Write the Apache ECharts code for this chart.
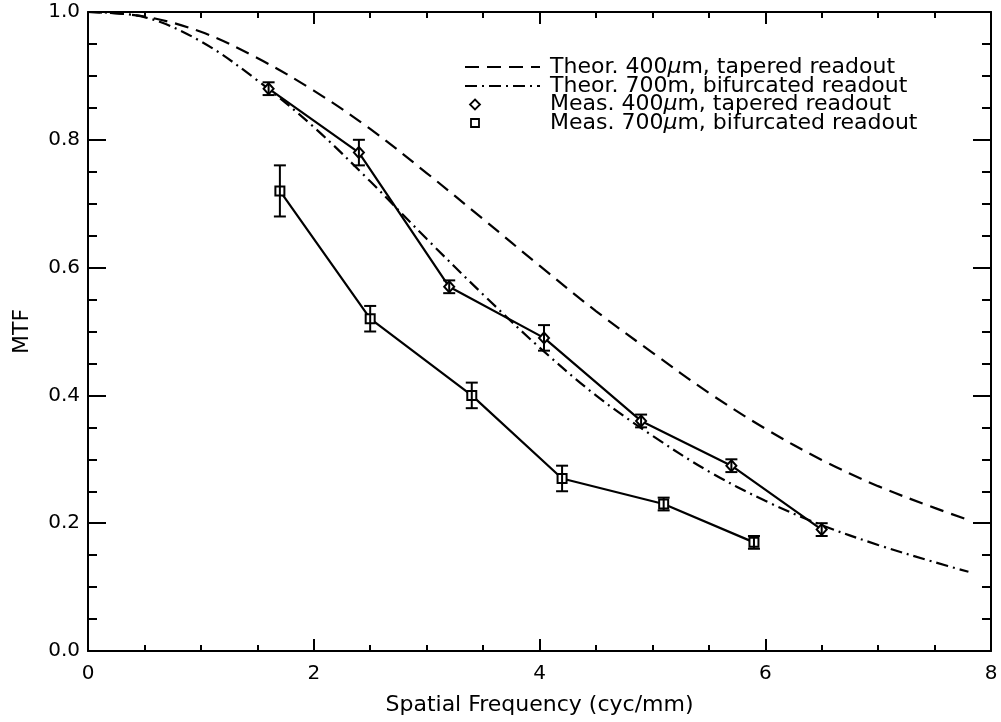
<!DOCTYPE html>
<html><head><meta charset="utf-8">
<script src="https://cdn.jsdelivr.net/npm/echarts@6/dist/echarts.min.js"></script>
<style>html,body{margin:0;padding:0;background:#fff}#c{width:1001px;height:722px}</style>
</head><body><div id="c"></div>
<script>
// ---- data ----
const theoX = [0, 0.5, 1, 1.5, 2, 2.5, 3, 3.5, 4, 4.5, 5, 5.5, 6, 6.5, 7, 7.5, 7.8];
const theo400 = [1.0, 0.993, 0.969, 0.928, 0.877, 0.817, 0.748, 0.676, 0.603, 0.532, 0.467, 0.404, 0.348, 0.299, 0.258, 0.224, 0.205];
const theo700 = [1.0, 0.992, 0.954, 0.893, 0.82, 0.735, 0.645, 0.558, 0.475, 0.40, 0.337, 0.281, 0.235, 0.197, 0.166, 0.139, 0.124];
const meas400X = [1.6, 2.4, 3.2, 4.04, 4.9, 5.7, 6.5];
const meas400Y = [0.88, 0.78, 0.57, 0.49, 0.36, 0.29, 0.19];
const meas400Err = [0.01, 0.02, 0.01, 0.02, 0.01, 0.01, 0.01];
const meas700X = [1.7, 2.5, 3.4, 4.2, 5.1, 5.9];
const meas700Y = [0.72, 0.52, 0.40, 0.27, 0.23, 0.17];
const meas700Err = [0.04, 0.02, 0.02, 0.02, 0.01, 0.01];
const legendLabels = [
  'Theor. 400{mu|\u03bc}m, tapered readout',
  'Theor. 700m, bifurcated readout',
  'Meas. 400{mu|\u03bc}m, tapered readout',
  'Meas. 700{mu|\u03bc}m, bifurcated readout'
];
const xTitle = 'Spatial Frequency (cyc/mm)';
const yTitle = 'MTF';

// ---- build ----
const FONT = 'DejaVu Sans';
const pairs = (xs, ys) => xs.map((x, i) => [x, ys[i]]);
const errData = (xs, ys, es) => xs.map((x, i) => [x, ys[i] - es[i], ys[i] + es[i]]);

function errRender(params, api) {
  const x = api.value(0);
  const lo = api.coord([x, api.value(1)]);
  const hi = api.coord([x, api.value(2)]);
  const w = 6;
  const st = { stroke: '#000', lineWidth: 2 };
  return {
    type: 'group',
    children: [
      { type: 'line', shape: { x1: lo[0], y1: lo[1], x2: hi[0], y2: hi[1] }, style: st },
      { type: 'line', shape: { x1: lo[0] - w, y1: lo[1], x2: lo[0] + w, y2: lo[1] }, style: st },
      { type: 'line', shape: { x1: hi[0] - w, y1: hi[1], x2: hi[0] + w, y2: hi[1] }, style: st }
    ]
  };
}

const axisCommon = {
  type: 'value',
  axisLine: { show: true, onZero: false, lineStyle: { color: '#000', width: 2 } },
  splitLine: { show: false },
  minorSplitLine: { show: false }
};

const chart = echarts.init(document.getElementById('c'), null, { renderer: 'canvas' });
const rowY = [67, 86, 104.5, 123];
const legX = 465, textX = 550;
const LF = 22;
const richMu = { mu: { fontStyle: 'italic', fontFamily: FONT, fontSize: LF, fill: '#000' } };
const legendEls = [];
legendEls.push({ type: 'line', shape: { x1: legX, y1: rowY[0], x2: legX + 75, y2: rowY[0] },
  style: { stroke: '#000', lineWidth: 2, lineDash: [14, 8] } });
legendEls.push({ type: 'line', shape: { x1: legX, y1: rowY[1], x2: legX + 75, y2: rowY[1] },
  style: { stroke: '#000', lineWidth: 2, lineDash: [12, 5, 2, 5] } });
legendEls.push({ type: 'polygon', shape: { points: [[475, rowY[2] - 5], [480, rowY[2]], [475, rowY[2] + 5], [470, rowY[2]]] },
  style: { fill: '#fff', stroke: '#000', lineWidth: 1.8 } });
legendEls.push({ type: 'rect', shape: { x: 471, y: rowY[3] - 4, width: 8, height: 8 },
  style: { fill: '#fff', stroke: '#000', lineWidth: 1.8 } });
legendLabels.forEach((t, i) => {
  legendEls.push({ type: 'text', x: textX, y: rowY[i],
    style: { text: t, fontFamily: FONT, fontSize: LF, fill: '#000', verticalAlign: 'middle', rich: richMu } });
});

chart.setOption({
  backgroundColor: '#fff',
  animation: false,
  grid: { left: 88, right: 10, top: 12, bottom: 71, containLabel: false },
  xAxis: [
    Object.assign({}, axisCommon, {
      min: 0, max: 8, interval: 2, position: 'bottom',
      axisTick: { show: true, inside: true, length: 12, lineStyle: { color: '#000', width: 2 } },
      minorTick: { show: true, splitNumber: 4, length: 6, lineStyle: { color: '#000', width: 2 } },
      axisLabel: { color: '#000', fontFamily: FONT, fontSize: 20, margin: 13 },
      name: xTitle, nameLocation: 'middle', nameGap: 43,
      nameTextStyle: { color: '#000', fontFamily: FONT, fontSize: 22 }
    }),
    Object.assign({}, axisCommon, {
      min: 0, max: 8, interval: 2, position: 'top',
      axisTick: { show: true, inside: true, length: 12, lineStyle: { color: '#000', width: 2 } },
      minorTick: { show: true, splitNumber: 4, length: 6, lineStyle: { color: '#000', width: 2 } },
      axisLabel: { show: false }
    })
  ],
  yAxis: [
    Object.assign({}, axisCommon, {
      min: 0, max: 1, interval: 0.2, position: 'left',
      axisTick: { show: true, inside: true, length: 18, lineStyle: { color: '#000', width: 2 } },
      minorTick: { show: true, splitNumber: 4, length: 9, lineStyle: { color: '#000', width: 2 } },
      axisLabel: { color: '#000', fontFamily: FONT, fontSize: 20, margin: 8, formatter: v => v.toFixed(1) },
      name: yTitle, nameLocation: 'middle', nameGap: 55, nameRotate: 90,
      nameTextStyle: { color: '#000', fontFamily: FONT, fontSize: 22 }
    }),
    Object.assign({}, axisCommon, {
      min: 0, max: 1, interval: 0.2, position: 'right',
      axisTick: { show: true, inside: true, length: 18, lineStyle: { color: '#000', width: 2 } },
      minorTick: { show: true, splitNumber: 4, length: 9, lineStyle: { color: '#000', width: 2 } },
      axisLabel: { show: false }
    })
  ],
  series: [
    { type: 'line', data: pairs(theoX, theo400), showSymbol: false, symbol: 'none', smooth: 0.35,
      lineStyle: { color: '#000', width: 2.2, type: [14, 8] }, z: 2 },
    { type: 'line', data: pairs(theoX, theo700), showSymbol: false, symbol: 'none', smooth: 0.35,
      lineStyle: { color: '#000', width: 2.2, type: [12, 5, 2, 5] }, z: 2 },
    { type: 'line', data: pairs(meas400X, meas400Y), symbol: 'diamond', symbolSize: [10, 11],
      lineStyle: { color: '#000', width: 2.2 },
      itemStyle: { color: '#fff', borderColor: '#000', borderWidth: 2 }, z: 3 },
    { type: 'line', data: pairs(meas700X, meas700Y), symbol: 'rect', symbolSize: 9,
      lineStyle: { color: '#000', width: 2.2 },
      itemStyle: { color: '#fff', borderColor: '#000', borderWidth: 2 }, z: 3 },
    { type: 'custom', data: errData(meas400X, meas400Y, meas400Err), renderItem: errRender,
      encode: { x: 0, y: [1, 2] }, z: 4 },
    { type: 'custom', data: errData(meas700X, meas700Y, meas700Err), renderItem: errRender,
      encode: { x: 0, y: [1, 2] }, z: 4 }
  ],
  graphic: legendEls
});
</script>
</body></html>
